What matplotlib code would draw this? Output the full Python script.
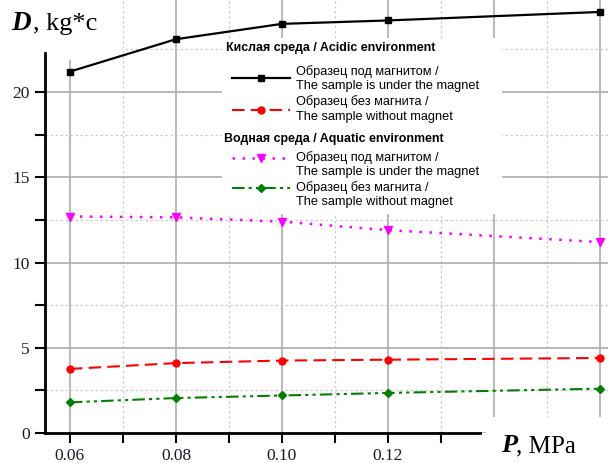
import matplotlib.pyplot as plt
from matplotlib.lines import Line2D
from matplotlib.patches import Rectangle
from matplotlib.ticker import FixedLocator
from matplotlib.transforms import Affine2D

# pressure, MPa
pressure = [0.06, 0.08, 0.10, 0.12, 0.16]

# D, kg*c
acid_magnet = [21.2, 23.1, 24.0, 24.2, 24.7]
acid_no_magnet = [3.76, 4.1, 4.25, 4.3, 4.4]
water_magnet = [12.7, 12.65, 12.4, 11.9, 11.2]
water_no_magnet = [1.8, 2.05, 2.2, 2.35, 2.6]

x_major = [0.06, 0.08, 0.10, 0.12, 0.14, 0.16]
x_minor = [0.07, 0.09, 0.11, 0.13, 0.15]
x_labels = ['0.06', '0.08', '0.10', '0.12', '', '']
y_major = [0, 5, 10, 15, 20]
y_minor = [2.5, 7.5, 12.5, 17.5, 22.5]

legend_rows = [
    ('Образец под магнитом /\nThe sample is under the magnet', 'acid_magnet'),
    ('Образец без магнита /\nThe sample without magnet', 'acid_no_magnet'),
    ('Образец под магнитом /\nThe sample is under the magnet', 'water_magnet'),
    ('Образец без магнита /\nThe sample without magnet', 'water_no_magnet'),
]

styles = {
    'acid_magnet': dict(color='black', linestyle='-', marker='s', markersize=4.5, lw=1.6),
    'acid_no_magnet': dict(color='#ff0000', linestyle=(0, (6, 3)), marker='o', markersize=5, lw=1.5),
    'water_magnet': dict(color='#ff00ff', linestyle=(0, (1, 3)), marker='v', markersize=6, lw=1.8),
    'water_no_magnet': dict(color='#008000', linestyle=(0, (6, 2, 1.5, 2, 1.5, 2)), marker='D', markersize=4.5, lw=1.5),
}

serif = 'Liberation Serif'
sans = ['Liberation Sans', 'DejaVu Sans']

W, H = 608, 463
fig = plt.figure(figsize=(W / 100, H / 100), dpi=100)
ax = fig.add_axes([45 / W, 30 / H, (W - 45) / W, (H - 30) / H])
ax.set_xlim(0.0553, 0.1615)
ax.set_ylim(0, 25.4)

ax.plot(pressure, acid_magnet, **styles['acid_magnet'], zorder=3)
ax.plot(pressure, acid_no_magnet, **styles['acid_no_magnet'], zorder=3)
ax.plot(pressure, water_magnet, **styles['water_magnet'], zorder=3)
ax.plot(pressure, water_no_magnet, **styles['water_no_magnet'], zorder=3)

ax.xaxis.set_major_locator(FixedLocator(x_major))
ax.xaxis.set_minor_locator(FixedLocator(x_minor))
ax.set_xticklabels(x_labels)
ax.yaxis.set_major_locator(FixedLocator(y_major))
ax.yaxis.set_minor_locator(FixedLocator(y_minor))

ax.grid(True, which='major', color='#adadad', lw=1.2, ls='-')
ax.grid(True, which='minor', color='#cccccc', lw=0.9, ls=(0, (2, 2)))

for s in ['top', 'right']:
    ax.spines[s].set_visible(False)
for s in ['left', 'bottom']:
    ax.spines[s].set_linewidth(2)
ax.spines['bottom'].set_bounds(0.0553, 0.1374)
ax.spines['left'].set_bounds(0, 22.3)

ax.tick_params(which='both', direction='out', length=7, width=1.5, color='black')
ax.tick_params(axis='both', which='major', labelsize=12.5, pad=4)
for lbl in ax.get_xticklabels() + ax.get_yticklabels():
    lbl.set_fontfamily(serif)
    lbl.set_color('#1a1a2a')

# hide tick marks that fall past the end of the cut x spine
for t, v in zip(ax.xaxis.get_major_ticks(), x_major):
    if v > 0.13:
        t.tick1line.set_visible(False)
for t, v in zip(ax.xaxis.get_minor_ticks(), x_minor):
    if v > 0.135:
        t.tick1line.set_visible(False)
for t, v in zip(ax.yaxis.get_minor_ticks(), y_minor):
    if v > 22:
        t.tick1line.set_visible(False)

# pixel transform (origin top-left)
pix = Affine2D().scale(1 / W, -1 / H).translate(0, 1) + fig.transFigure

# white patches behind the axis titles and the legend
for x0, y0, w, h in [(0, 0, 122, 60), (486, 417, 122, 46), (222, 38, 280, 176)]:
    ax.add_patch(Rectangle((x0, y0), w, h, transform=pix, facecolor='white',
                           edgecolor='none', zorder=2.2, clip_on=False))

ax.text(11, 30, 'D', transform=pix, family=serif, fontsize=19.5, fontweight='bold',
        fontstyle='italic', zorder=4)
ax.text(33, 30, ', kg*c', transform=pix, family=serif, fontsize=19, zorder=4)
ax.text(501, 452, 'P', transform=pix, family=serif, fontsize=19, fontweight='bold',
        fontstyle='italic', zorder=4)
ax.text(516, 452, ', MPa', transform=pix, family=serif, fontsize=18, zorder=4)

# legend
ax.text(226, 48, 'Кислая среда / Acidic environment', transform=pix, family=sans,
        fontsize=8.9, fontweight='bold', va='center', zorder=4)
ax.text(224, 139, 'Водная среда / Aquatic environment', transform=pix, family=sans,
        fontsize=8.9, fontweight='bold', va='center', zorder=4)
row_y = [(78.5, 78), (109, 110), (164.5, 158), (194.5, 188)]
for (label, key), (ty, hy) in zip(legend_rows, row_y):
    st = dict(styles[key])
    mk = st.pop('marker')
    ms = st.pop('markersize')
    ax.add_line(Line2D([232, 290], [hy, hy], transform=pix, clip_on=False, zorder=4, **st))
    ax.add_line(Line2D([261], [hy], transform=pix, clip_on=False, zorder=4, marker=mk,
                       markersize=ms, color=st['color'], linestyle='none'))
    ax.text(296, ty, label, transform=pix, family=sans, fontsize=9.2, va='center',
            linespacing=1.25, zorder=4)

fig.savefig('out.png', dpi=100)
